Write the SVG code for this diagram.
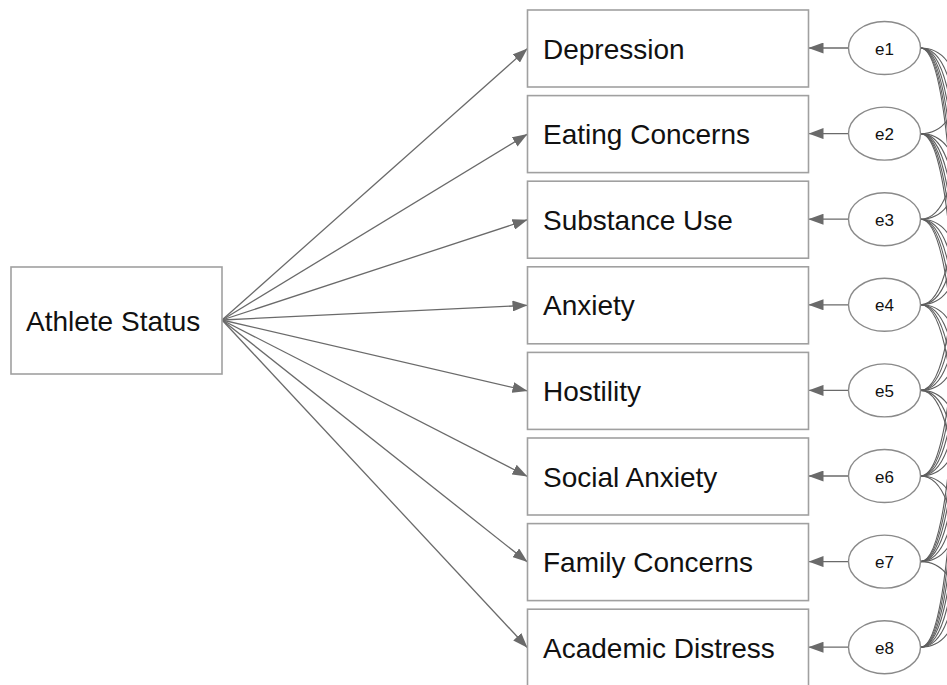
<svg xmlns="http://www.w3.org/2000/svg" width="947" height="685" viewBox="0 0 947 685">
<style>
.box{fill:#fff;stroke:#a0a0a0;stroke-width:1.6}
.err{fill:#fff;stroke:#8a8a8a;stroke-width:1.4}
.lbl{font-family:"Liberation Sans",Arial,sans-serif;font-size:28px;fill:#111}
.elbl{font-family:"Liberation Sans",Arial,sans-serif;font-size:17px;fill:#111;text-anchor:middle}
.path{stroke:#6a6a6a;stroke-width:1.3;fill:none;marker-end:url(#ah)}
.cov{stroke:#5e5e5e;stroke-width:1.1;fill:none}
</style>
<defs>
<marker id="ah" markerUnits="userSpaceOnUse" markerWidth="15" markerHeight="11" refX="15" refY="5.5" orient="auto">
<path d="M0,0 L15,5.5 L0,11 z" fill="#6a6a6a"/>
</marker>
</defs>
<rect width="947" height="685" fill="#fff"/>
<g id="connectors">
<line class="path" x1="222" y1="320" x2="527.5" y2="48.5"/>
<line class="path" x1="222" y1="320" x2="527.5" y2="134.1"/>
<line class="path" x1="222" y1="320" x2="527.5" y2="219.7"/>
<line class="path" x1="222" y1="320" x2="527.5" y2="305.3"/>
<line class="path" x1="222" y1="320" x2="527.5" y2="390.9"/>
<line class="path" x1="222" y1="320" x2="527.5" y2="476.5"/>
<line class="path" x1="222" y1="320" x2="527.5" y2="562.1"/>
<line class="path" x1="222" y1="320" x2="527.5" y2="647.7"/>
<line class="path" x1="848.5" y1="48" x2="808.5" y2="48"/>
<line class="path" x1="848.5" y1="133.6" x2="808.5" y2="133.6"/>
<line class="path" x1="848.5" y1="219.2" x2="808.5" y2="219.2"/>
<line class="path" x1="848.5" y1="304.8" x2="808.5" y2="304.8"/>
<line class="path" x1="848.5" y1="390.4" x2="808.5" y2="390.4"/>
<line class="path" x1="848.5" y1="476" x2="808.5" y2="476"/>
<line class="path" x1="848.5" y1="561.6" x2="808.5" y2="561.6"/>
<line class="path" x1="848.5" y1="647.2" x2="808.5" y2="647.2"/>
<path class="cov" d="M920.5,48 C968,48 968,133.6 920.5,133.6"/>
<path class="cov" d="M920.5,48 C968,48 968,219.2 920.5,219.2"/>
<path class="cov" d="M920.5,48 C968,48 968,304.8 920.5,304.8"/>
<path class="cov" d="M920.5,48 C968,48 968,390.4 920.5,390.4"/>
<path class="cov" d="M920.5,48 C968,48 968,476 920.5,476"/>
<path class="cov" d="M920.5,48 C968,48 968,561.6 920.5,561.6"/>
<path class="cov" d="M920.5,48 C968,48 968,647.2 920.5,647.2"/>
<path class="cov" d="M920.5,133.6 C968,133.6 968,219.2 920.5,219.2"/>
<path class="cov" d="M920.5,133.6 C968,133.6 968,304.8 920.5,304.8"/>
<path class="cov" d="M920.5,133.6 C968,133.6 968,390.4 920.5,390.4"/>
<path class="cov" d="M920.5,133.6 C968,133.6 968,476 920.5,476"/>
<path class="cov" d="M920.5,133.6 C968,133.6 968,561.6 920.5,561.6"/>
<path class="cov" d="M920.5,133.6 C968,133.6 968,647.2 920.5,647.2"/>
<path class="cov" d="M920.5,219.2 C968,219.2 968,304.8 920.5,304.8"/>
<path class="cov" d="M920.5,219.2 C968,219.2 968,390.4 920.5,390.4"/>
<path class="cov" d="M920.5,219.2 C968,219.2 968,476 920.5,476"/>
<path class="cov" d="M920.5,219.2 C968,219.2 968,561.6 920.5,561.6"/>
<path class="cov" d="M920.5,219.2 C968,219.2 968,647.2 920.5,647.2"/>
<path class="cov" d="M920.5,304.8 C968,304.8 968,390.4 920.5,390.4"/>
<path class="cov" d="M920.5,304.8 C968,304.8 968,476 920.5,476"/>
<path class="cov" d="M920.5,304.8 C968,304.8 968,561.6 920.5,561.6"/>
<path class="cov" d="M920.5,304.8 C968,304.8 968,647.2 920.5,647.2"/>
<path class="cov" d="M920.5,390.4 C968,390.4 968,476 920.5,476"/>
<path class="cov" d="M920.5,390.4 C968,390.4 968,561.6 920.5,561.6"/>
<path class="cov" d="M920.5,390.4 C968,390.4 968,647.2 920.5,647.2"/>
<path class="cov" d="M920.5,476 C968,476 968,561.6 920.5,561.6"/>
<path class="cov" d="M920.5,476 C968,476 968,647.2 920.5,647.2"/>
<path class="cov" d="M920.5,561.6 C968,561.6 968,647.2 920.5,647.2"/>
</g>
<g id="athlete"><rect class="box" x="11" y="267" width="211" height="107"/><text class="lbl" x="26" y="331">Athlete Status</text></g>
<g id="depression"><rect class="box" x="527.5" y="10" width="281" height="77"/><text class="lbl" x="543" y="58.5">Depression</text></g>
<g id="eating"><rect class="box" x="527.5" y="95.6" width="281" height="77"/><text class="lbl" x="543" y="144.1">Eating Concerns</text></g>
<g id="substance"><rect class="box" x="527.5" y="181.2" width="281" height="77"/><text class="lbl" x="543" y="229.7">Substance Use</text></g>
<g id="anxiety"><rect class="box" x="527.5" y="266.8" width="281" height="77"/><text class="lbl" x="543" y="315.3">Anxiety</text></g>
<g id="hostility"><rect class="box" x="527.5" y="352.4" width="281" height="77"/><text class="lbl" x="543" y="400.9">Hostility</text></g>
<g id="social"><rect class="box" x="527.5" y="438" width="281" height="77"/><text class="lbl" x="543" y="486.5">Social Anxiety</text></g>
<g id="family"><rect class="box" x="527.5" y="523.6" width="281" height="77"/><text class="lbl" x="543" y="572.1">Family Concerns</text></g>
<g id="academic"><rect class="box" x="527.5" y="609.2" width="281" height="77"/><text class="lbl" x="543" y="657.7">Academic Distress</text></g>
<g id="e1"><ellipse class="err" cx="884.5" cy="48" rx="36" ry="26.5"/><text class="elbl" x="884.5" y="54.5">e1</text></g>
<g id="e2"><ellipse class="err" cx="884.5" cy="133.6" rx="36" ry="26.5"/><text class="elbl" x="884.5" y="140.1">e2</text></g>
<g id="e3"><ellipse class="err" cx="884.5" cy="219.2" rx="36" ry="26.5"/><text class="elbl" x="884.5" y="225.7">e3</text></g>
<g id="e4"><ellipse class="err" cx="884.5" cy="304.8" rx="36" ry="26.5"/><text class="elbl" x="884.5" y="311.3">e4</text></g>
<g id="e5"><ellipse class="err" cx="884.5" cy="390.4" rx="36" ry="26.5"/><text class="elbl" x="884.5" y="396.9">e5</text></g>
<g id="e6"><ellipse class="err" cx="884.5" cy="476" rx="36" ry="26.5"/><text class="elbl" x="884.5" y="482.5">e6</text></g>
<g id="e7"><ellipse class="err" cx="884.5" cy="561.6" rx="36" ry="26.5"/><text class="elbl" x="884.5" y="568.1">e7</text></g>
<g id="e8"><ellipse class="err" cx="884.5" cy="647.2" rx="36" ry="26.5"/><text class="elbl" x="884.5" y="653.7">e8</text></g>
</svg>
